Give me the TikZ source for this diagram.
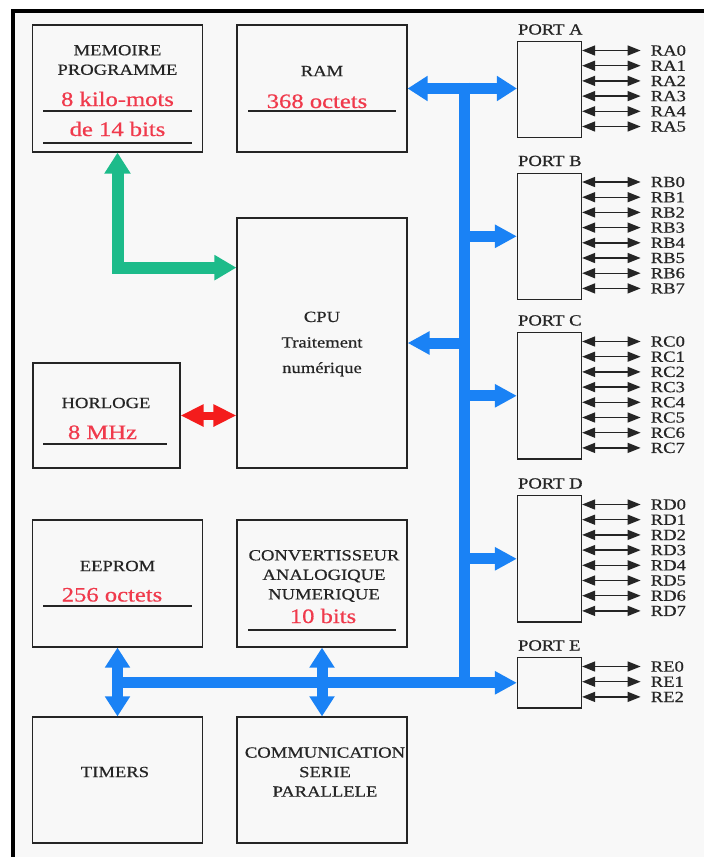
\documentclass[tikz,border=0pt]{standalone}
\usepackage{fontspec}
\setmainfont[FakeStretch=1.2,FakeBold=0.6]{Liberation Serif}
\usetikzlibrary{arrows.meta,calc}
\definecolor{busblue}{HTML}{1A82F5}
\definecolor{proggreen}{HTML}{1DBB8A}
\definecolor{clkred}{HTML}{F41C1C}
\definecolor{valred}{HTML}{F03A4C}
\definecolor{ink}{HTML}{252525}
\definecolor{paper}{HTML}{F8F8F8}
\tikzset{block/.style={draw=ink,line width=1.2pt,minimum width=170pt,minimum height=127pt,inner sep=0pt},port/.style={draw=ink,line width=1.2pt,minimum width=64pt,inner sep=0pt},lbl/.style={text=ink,font=\fontsize{15.5}{19.5}\selectfont,align=center,inner sep=0pt},val/.style={text=valred,font=\fontsize{20.5}{24}\selectfont,inner sep=0pt},uline/.style={draw=ink,line width=1.2pt},sigtxt/.style={text=ink,font=\fontsize{15.5}{16}\selectfont,inner sep=0pt},sig/.style={draw=ink,line width=1.4pt,{Triangle[length=13pt,width=10pt]}-{Triangle[length=13pt,width=10pt]},shorten >=10pt},bus/.style={draw=busblue,line width=11pt},busarrow/.style={bus,-{Triangle[length=22pt,width=22pt]}},busboth/.style={bus,{Triangle[length=20pt,width=24pt]}-{Triangle[length=20pt,width=24pt]}},progarrow/.style={draw=proggreen,line width=12pt,{Triangle[length=21pt,width=25pt]}-{Triangle[length=22pt,width=24pt]}},clkarrow/.style={draw=clkred,line width=8pt,{Triangle[length=23pt,width=21pt]}-{Triangle[length=23pt,width=21pt]}}}
\begin{document}
\begin{tikzpicture}[x=1pt,y=-1pt]
\useasboundingbox (0,0) rectangle (704,857);
\fill[white] (0,0) rectangle (704,857);
\fill[paper] (12,11) rectangle (704,857);
\draw[line width=4pt,line cap=rect] (12.5,857) -- (12.5,11) -- (704,11);
% blocks
\node[block] (mem) at (117.5,88.5) {};
\node[block] (ram) at (322,88.5) {};
\node[block,minimum height=250pt] (cpu) at (322,343) {};
\node[block,minimum width=147pt,minimum height=105pt] (clk) at (106.5,415.5) {};
\node[block] (eep) at (117.5,583.5) {};
\node[block] (adc) at (322,583.5) {};
\node[block,minimum height=126pt] (tim) at (117.5,780) {};
\node[block,minimum height=126pt] (com) at (322,780) {};
% texts
\node[lbl] (memname) at (117.5,60) {MEMOIRE\\PROGRAMME};
\node[val,anchor=base] (memsize) at (117.5,106) {8 kilo-mots};
\node[val,anchor=base] (memword) at (117.5,136) {de 14 bits};
\draw[uline] (43,111) -- (192,111);
\draw[uline] (43,143) -- (192,143);
\node[lbl] (ramname) at (322,71) {RAM};
\node[val,anchor=base] (ramsize) at (317,108) {368 octets};
\draw[uline] (248,111) -- (396,111);
\node[lbl,font=\fontsize{15.5}{25.5}\selectfont] (cputxt) at (322,344) {CPU\\Traitement\\numérique};
\node[lbl] (clkname) at (106,403) {HORLOGE};
\node[val,anchor=base] (clkfreq) at (102.5,439) {8 MHz};
\draw[uline] (43,444) -- (167,444);
\node[lbl] (eepname) at (117.5,566) {EEPROM};
\node[val,anchor=base] (eepsize) at (112,601.5) {256 octets};
\draw[uline] (43,606) -- (192,606);
\node[lbl] (adcname) at (324,576) {CONVERTISSEUR\\ANALOGIQUE\\NUMERIQUE};
\node[val,anchor=base] (adcbits) at (323,623) {10 bits};
\draw[uline] (248,630) -- (396,630);
\node[lbl] (timname) at (115,772) {TIMERS};
\node[lbl] (comname) at (325,772) {COMMUNICATION\\SERIE\\PARALLELE};
% ports
\foreach \p/\n/\y in {A/5/41,B/7/172.5,C/7/332,D/7/495,E/2/657}{
  \node[port,anchor=north,minimum height={20+15.2*\n}] (port\p) at (549.5,\y) {};
  \node[lbl,anchor=base west] (name\p) at ($(port\p.north west)+(1,-6.5)$) {PORT \p};
  \foreach \i in {0,...,\n}{
    \node[sigtxt,anchor=west] (R\p\i) at ($(port\p.north east)+(68.5,{9.5+15.2*\i})$) {R\p\i};
    \draw[sig] (port\p.east |- R\p\i.west) -- (R\p\i.west);
  }
}
% bus
\coordinate (bustop) at (464,82.5);
\coordinate (busbot) at ($(portE.west -| bustop)+(0,5.5)$);
\coordinate (busleft) at (112,682);
\draw[bus] (bustop) -- (busbot);
\draw[busboth] (ram.east) -- (ram.east -| portA.west);
\draw[busarrow] (portB.west -| bustop) -- (portB.west);
\draw[busarrow] (portC.west -| bustop) -- (portC.west);
\draw[busarrow] (portD.west -| bustop) -- (portD.west);
\draw[busarrow] (cpu.east -| bustop) -- (cpu.east);
\draw[busarrow] (busleft |- portE.west) -- (portE.west);
\draw[busboth] (eep.south) -- (tim.north);
\draw[busboth] (adc.south) -- (com.north);
% program memory and clock
\coordinate (cpuin) at ($(cpu.north west)!0.2!(cpu.south west)$);
\draw[progarrow] (mem.south) |- (cpuin);
\draw[clkarrow] (clk.east) -- (clk.east -| cpu.west);
\end{tikzpicture}
\end{document}
